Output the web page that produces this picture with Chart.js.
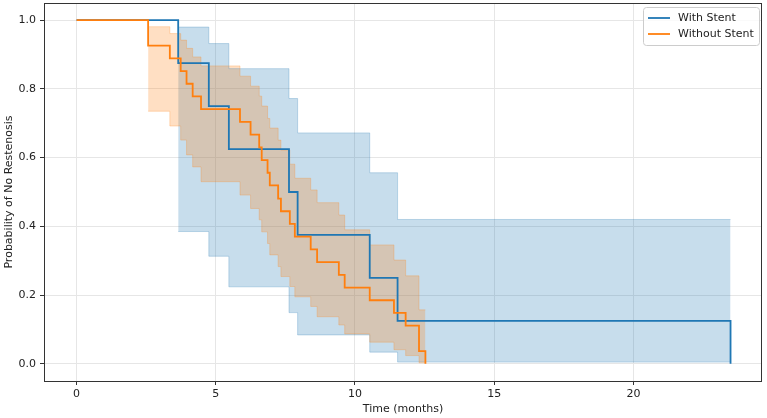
<!DOCTYPE html>
<html>
<head>
<meta charset="utf-8">
<script src="https://cdn.jsdelivr.net/npm/chart.js@4"></script>
<style>
  html, body { margin: 0; padding: 0; background: #fff; }
  #wrap { width: 767px; height: 418px; }
</style>
</head>
<body>
<div id="wrap"><canvas id="km"></canvas></div>
<script>
// series names (legend)
const seriesNames = ['With Stent', 'Without Stent'];

// With Stent: Kaplan-Meier steps
const stentTimes = [0, 3.65, 4.75, 5.47, 7.63, 7.94, 10.53, 11.53, 23.49];
const stentSurv = [1.0, 0.875, 0.75, 0.625, 0.5, 0.375, 0.25, 0.125, 0.0];

// With Stent: confidence band
const stentCiTimes = [3.65, 4.75, 5.47, 7.63, 7.94, 10.53, 11.53, 23.49];
const stentCiUpper = [0.98, 0.932, 0.859, 0.772, 0.672, 0.556, 0.42, 0.42];
const stentCiLower = [0.385, 0.313, 0.224, 0.149, 0.084, 0.034, 0.005, 0.005];

// Without Stent: Kaplan-Meier steps
const noStentTimes = [0, 2.57, 3.35, 3.74, 3.95, 4.17, 4.47, 5.87, 6.25, 6.56, 6.65, 6.86, 6.94,
  7.24, 7.34, 7.66, 7.84, 8.41, 8.64, 9.42, 9.63, 10.53, 11.4, 11.82, 12.3, 12.53];
const noStentSurv = [1.0, 0.926, 0.889, 0.852, 0.815, 0.778, 0.741, 0.704, 0.667, 0.630, 0.593,
  0.556, 0.519, 0.481, 0.444, 0.407, 0.370, 0.333, 0.296, 0.259, 0.222, 0.185, 0.148, 0.111, 0.037, 0.0];

// Without Stent: confidence band
const noStentCiTimes = [2.57, 3.35, 3.74, 3.95, 4.17, 4.47, 5.87, 6.25, 6.56, 6.65, 6.86, 6.94,
  7.24, 7.34, 7.66, 7.84, 8.41, 8.64, 9.42, 9.63, 10.53, 11.4, 11.82, 12.3, 12.53];
const noStentCiUpper = [0.981, 0.961, 0.942, 0.918, 0.893, 0.867, 0.837, 0.808, 0.779, 0.75, 0.714,
  0.686, 0.651, 0.622, 0.581, 0.54, 0.506, 0.469, 0.433, 0.39, 0.346, 0.302, 0.256, 0.157, 0.157];
const noStentCiLower = [0.735, 0.692, 0.651, 0.608, 0.573, 0.53, 0.491, 0.452, 0.419, 0.384, 0.35,
  0.317, 0.283, 0.254, 0.225, 0.195, 0.167, 0.137, 0.113, 0.087, 0.063, 0.041, 0.024, 0.003, 0.003];

// tick labels
const xTicks = [0, 5, 10, 15, 20];
const yTicks = [0.0, 0.2, 0.4, 0.6, 0.8, 1.0];

const BLUE = '#1f77b4';
const ORANGE = '#ff7f0e';
const FONT = 'DejaVu Sans';

function pts(xs, ys) {
  return xs.map((x, i) => ({ x: x, y: ys[i] }));
}

function lineSet(label, xs, ys, color) {
  return {
    label: label,
    data: pts(xs, ys),
    borderColor: color,
    borderWidth: 1.8,
    stepped: true,
    pointRadius: 0,
    fill: false
  };
}

function bandSet(xs, ys, color, fill) {
  return {
    label: '',
    data: pts(xs, ys),
    borderColor: color,
    backgroundColor: color,
    borderWidth: 1,
    stepped: true,
    pointRadius: 0,
    fill: fill
  };
}

// no extra room for end labels, the axes are fixed
function noPad(s) {
  s.paddingTop = 0;
  s.paddingBottom = 0;
  s.paddingLeft = 0;
  s.paddingRight = 0;
}

// frame round the plot + legend box
const framePlugin = {
  id: 'frame',
  afterDraw(chart) {
    const ctx = chart.ctx;
    const a = chart.chartArea;
    ctx.save();
    ctx.strokeStyle = '#333';
    ctx.lineWidth = 1;
    ctx.strokeRect(Math.round(a.left) + 0.5, Math.round(a.top) + 0.5,
      Math.round(a.right - a.left) - 1, Math.round(a.bottom - a.top));

    // legend
    const bx = 643.5, by = 7.5, bw = 116, bh = 38;
    ctx.beginPath();
    ctx.roundRect(bx, by, bw, bh, 3);
    ctx.fillStyle = 'rgba(255,255,255,0.8)';
    ctx.fill();
    ctx.strokeStyle = '#cccccc';
    ctx.stroke();
    const colors = [BLUE, ORANGE];
    ctx.font = '11px "' + FONT + '"';
    ctx.textBaseline = 'middle';
    seriesNames.forEach((name, i) => {
      const y = 18 + i * 16;
      ctx.beginPath();
      ctx.moveTo(648, y);
      ctx.lineTo(670, y);
      ctx.strokeStyle = colors[i];
      ctx.lineWidth = 1.8;
      ctx.stroke();
      ctx.fillStyle = '#222';
      ctx.fillText(name, 678, y + 0.5);
    });
    ctx.restore();
  }
};

new Chart(document.getElementById('km'), {
  type: 'line',
  data: {
    datasets: [
      lineSet(seriesNames[1], noStentTimes, noStentSurv, ORANGE),
      lineSet(seriesNames[0], stentTimes, stentSurv, BLUE),
      bandSet(noStentCiTimes, noStentCiUpper, 'rgba(255,127,14,0.25)', '+1'),
      bandSet(noStentCiTimes, noStentCiLower, 'rgba(255,127,14,0.25)', false),
      bandSet(stentCiTimes, stentCiUpper, 'rgba(31,119,180,0.25)', '+1'),
      bandSet(stentCiTimes, stentCiLower, 'rgba(31,119,180,0.25)', false)
    ]
  },
  options: {
    responsive: true,
    maintainAspectRatio: false,
    animation: false,
    layout: { padding: { top: 3, right: 5, bottom: 0, left: 0 } },
    plugins: {
      legend: { display: false },
      tooltip: { enabled: false },
      filler: { drawTime: 'beforeDatasetsDraw' }
    },
    scales: {
      x: {
        type: 'linear',
        min: -1.17,
        max: 24.62,
        afterBuildTicks: s => { s.ticks = xTicks.map(v => ({ value: v })); },
        afterFit: s => { s.height = 37; noPad(s); },
        ticks: {
          font: { family: FONT, size: 11 },
          color: '#222',
          padding: 3,
          maxRotation: 0,
          callback: v => String(v)
        },
        grid: { color: '#e6e6e6', tickColor: '#333', tickLength: 4, lineWidth: 1 },
        border: { display: false },
        title: {
          display: true,
          text: 'Time (months)',
          font: { family: FONT, size: 11 },
          color: '#222',
          padding: { top: 0, bottom: 2 }
        }
      },
      y: {
        min: -0.05,
        max: 1.05,
        afterBuildTicks: s => { s.ticks = yTicks.map(v => ({ value: v })); },
        afterFit: s => { s.width = 44; noPad(s); },
        ticks: {
          font: { family: FONT, size: 11 },
          color: '#222',
          padding: 4,
          callback: v => Number(v).toFixed(1)
        },
        grid: { color: '#e6e6e6', tickColor: '#333', tickLength: 4, lineWidth: 1 },
        border: { display: false },
        title: {
          display: true,
          text: 'Probability of No Restenosis',
          font: { family: FONT, size: 11 },
          color: '#222',
          padding: { top: 3, bottom: 0 }
        }
      }
    }
  },
  plugins: [framePlugin]
});
</script>
</body>
</html>
